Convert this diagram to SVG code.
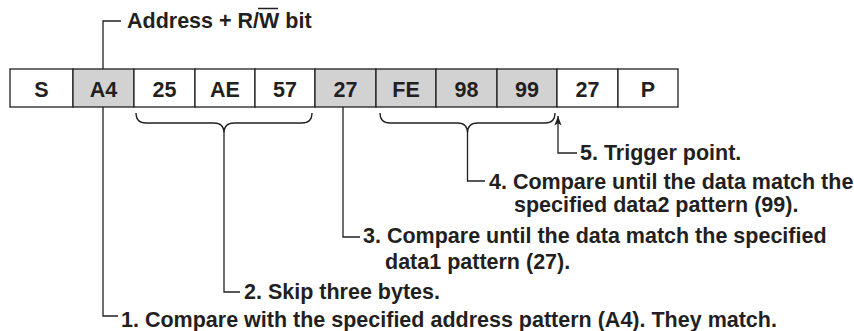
<svg xmlns="http://www.w3.org/2000/svg" width="854" height="331" viewBox="0 0 854 331">
  <style>
    text { font-family: "Liberation Sans", Arial, sans-serif; font-weight: bold; font-size: 21.5px; fill: #231f20; }
    .cell { stroke: #231f20; stroke-width: 1.3; fill: #ffffff; }
    .hit { fill: #d2d2d2; }
    .lbl { text-anchor: middle; }
    .wire { fill: none; stroke: #231f20; stroke-width: 1.3; }
  </style>
  <defs>
    <!-- slim arrowhead drawn along +x, rotated to follow the line -->
    <marker id="arrowHead" viewBox="0 0 12 10" refX="12" refY="5" markerWidth="11" markerHeight="8" markerUnits="userSpaceOnUse" orient="auto">
      <path d="M12,5 L0,0.5 L3,5 L0,9.5 Z" fill="#231f20"/>
    </marker>
  </defs>

  <rect width="854" height="331" fill="#ffffff"/>

  <!-- byte sequence -->
  <g id="byte-S"><rect class="cell" x="10" y="69" width="63" height="38"/><text class="lbl" x="41.5" y="96.5">S</text></g>
  <g id="byte-A4"><rect class="cell hit" x="73" y="69" width="61" height="38"/><text class="lbl" x="103.5" y="96.5">A4</text></g>
  <g id="byte-25"><rect class="cell" x="134" y="69" width="61" height="38"/><text class="lbl" x="164.5" y="96.5">25</text></g>
  <g id="byte-AE"><rect class="cell" x="195" y="69" width="60" height="38"/><text class="lbl" x="225" y="96.5">AE</text></g>
  <g id="byte-57"><rect class="cell" x="255" y="69" width="60" height="38"/><text class="lbl" x="285" y="96.5">57</text></g>
  <g id="byte-27a"><rect class="cell hit" x="315" y="69" width="61" height="38"/><text class="lbl" x="345.5" y="96.5">27</text></g>
  <g id="byte-FE"><rect class="cell hit" x="376" y="69" width="60" height="38"/><text class="lbl" x="406" y="96.5">FE</text></g>
  <g id="byte-98"><rect class="cell hit" x="436" y="69" width="61" height="38"/><text class="lbl" x="466.5" y="96.5">98</text></g>
  <g id="byte-99"><rect class="cell hit" x="497" y="69" width="60" height="38"/><text class="lbl" x="527" y="96.5">99</text></g>
  <g id="byte-27b"><rect class="cell" x="557" y="69" width="61" height="38"/><text class="lbl" x="587.5" y="96.5">27</text></g>
  <g id="byte-P"><rect class="cell" x="618" y="69" width="60" height="38"/><text class="lbl" x="648" y="96.5">P</text></g>

  <!-- leaders, braces and trigger arrow -->
  <g id="connectors">
    <path class="wire" d="M103,69 V21 H121"/>
    <path class="wire" d="M103,107 V316 H118"/>
    <path class="wire" d="M136,113 Q136,123 146,123 H214 Q224,123 224,133 Q224,123 234,123 H302 Q312,123 312,113"/>
    <path class="wire" d="M224,133 V292 H240"/>
    <path class="wire" d="M343,107 V237 H360"/>
    <path class="wire" d="M380,113 Q380,123 390,123 H457.5 Q467.5,123 467.5,133 Q467.5,123 477.5,123 H545 Q555,123 555,113"/>
    <path class="wire" d="M467.5,133 V181 H485"/>
    <path class="wire" d="M577,153 H558 V116" marker-end="url(#arrowHead)"/>
  </g>

  <!-- annotations -->
  <g id="note-address">
    <text x="127" y="28">Address + R/W bit</text>
    <line x1="258" y1="8.5" x2="278" y2="8.5" stroke="#231f20" stroke-width="1.5"/>
  </g>
  <g id="note-1"><text x="121" y="327">1. Compare with the specified address pattern (A4).<tspan dx="6">They match.</tspan></text></g>
  <g id="note-2"><text x="244" y="299">2. Skip three bytes.</text></g>
  <g id="note-3">
    <text x="363" y="243">3. Compare until the data match the specified</text>
    <text x="385" y="269">data1 pattern (27).</text>
  </g>
  <g id="note-4">
    <text x="489" y="189">4. Compare until the data match the</text>
    <text x="514" y="212">specified data2 pattern (99).</text>
  </g>
  <g id="note-5"><text x="580" y="160">5. Trigger point.</text></g>
</svg>
